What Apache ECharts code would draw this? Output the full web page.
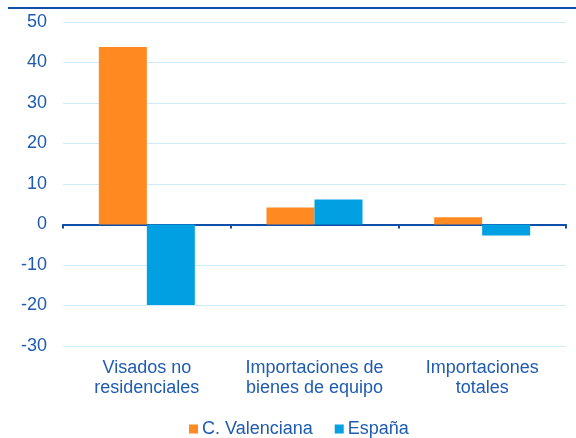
<!DOCTYPE html>
<html>
<head>
<meta charset="utf-8">
<script src="https://cdn.jsdelivr.net/npm/echarts@6/dist/echarts.min.js"></script>
<style>
  html, body { margin: 0; padding: 0; background: #fff; }
  #chart { width: 576px; height: 438px; }
</style>
</head>
<body>
<div id="chart"></div>
<script>
// datos
var categorias = ['Visados no\nresidenciales', 'Importaciones de\nbienes de equipo', 'Importaciones\ntotales'];
var valenciana = [43.8, 4.2, 1.8];
var espana = [-19.9, 6.2, -2.7];
var nombres = ['C. Valenciana', 'España'];

var azulTexto = '#1F5BB0';
var chart = echarts.init(document.getElementById('chart'));
var option = {
    animation: false,
    textStyle: { fontFamily: 'Arial, "Liberation Sans", sans-serif' },
    grid: { left: 63, right: 10, top: 22, bottom: 92 },
    legend: {
        data: nombres,
        top: 420,
        left: 189,
        padding: 0,
        itemWidth: 9,
        itemHeight: 9,
        itemGap: 22,
        icon: 'rect',
        textStyle: { color: azulTexto, fontSize: 18, lineHeight: 18, padding: [0, 0, 0, -1] }
    },
    graphic: [{
        type: 'line',
        shape: { x1: 8, y1: 8, x2: 576, y2: 8 },
        style: { stroke: '#0F4FA8', lineWidth: 2 }
    }],
    xAxis: {
        type: 'category',
        data: categorias,
        axisLine: { onZero: true, lineStyle: { color: '#0F4FA8', width: 2 } },
        axisTick: { show: true, inside: false, length: 4, lineStyle: { color: '#0F4FA8', width: 2 } },
        axisLabel: {
            interval: 0,
            hideOverlap: false,
            color: azulTexto,
            fontSize: 18,
            lineHeight: 20,
            margin: 12
        },
        position: 'bottom'
    },
    yAxis: {
        type: 'value',
        min: -30,
        max: 50,
        interval: 10,
        axisLine: { show: false },
        axisTick: { show: false },
        axisLabel: { color: azulTexto, fontSize: 18, margin: 16 },
        splitLine: { lineStyle: { color: '#CDEBF8', width: 1 } }
    },
    series: [
        {
            name: nombres[0],
            type: 'bar',
            data: valenciana,
            barWidth: 48,
            barGap: '0%',
            itemStyle: { color: '#FF8A21' }
        },
        {
            name: nombres[1],
            type: 'bar',
            data: espana,
            barWidth: 48,
            itemStyle: { color: '#00A0E3' }
        }
    ]
};
chart.setOption(option);
</script>
</body>
</html>
